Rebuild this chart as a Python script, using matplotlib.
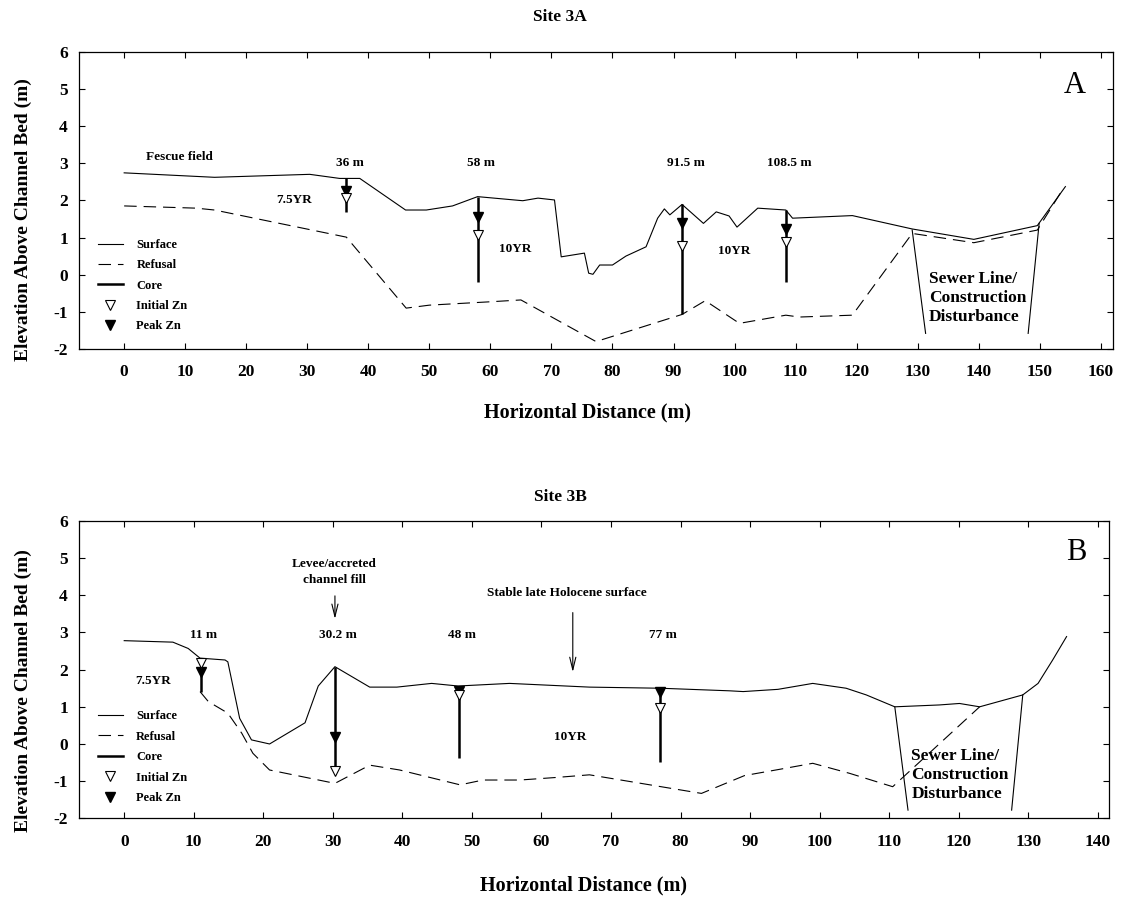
import matplotlib
matplotlib.use('Agg')
import matplotlib.pyplot as plt
from matplotlib.lines import Line2D

plt.rcParams['font.family'] = ['Liberation Serif', 'DejaVu Serif']
plt.rcParams['font.weight'] = 'bold'
plt.rcParams['axes.labelweight'] = 'bold'
plt.rcParams['axes.unicode_minus'] = False
plt.rcParams['lines.scale_dashes'] = False

# ---------------- Site 3A data ----------------
a_surface_x = [0, 14.8, 30.4, 35.3, 38.6, 46.1, 49.5, 53.8, 57.9, 65.3, 67.8, 70.5,
               71.6, 75.4, 76.1, 76.8, 77.9, 80.0, 82.2, 85.5, 87.4, 88.5, 89.4, 91.4,
               94.9, 97.0, 99.1, 100.4, 103.8, 108.4, 109.5, 119.3, 129.1, 139.2, 149.6, 154.2]
a_surface_y = [2.74, 2.62, 2.70, 2.59, 2.59, 1.74, 1.74, 1.85, 2.10, 1.99, 2.06, 2.01,
               0.48, 0.58, 0.04, 0.01, 0.26, 0.26, 0.50, 0.75, 1.52, 1.77, 1.61, 1.89,
               1.38, 1.69, 1.58, 1.28, 1.79, 1.74, 1.52, 1.59, 1.23, 0.95, 1.32, 2.37]
a_refusal_x = [0, 11.8, 14.8, 36.4, 46.2, 50.0, 59.9, 65.0, 77.3, 91.4, 95.2, 100.8,
               108.4, 110.6, 119.3, 129.1, 139.2, 149.6, 153.7]
a_refusal_y = [1.85, 1.79, 1.74, 1.01, -0.90, -0.82, -0.73, -0.68, -1.80, -1.07, -0.70, -1.31,
               -1.09, -1.14, -1.09, 1.11, 0.86, 1.20, 2.28]
a_core_x = [36.4, 57.9, 91.4, 108.4]
a_core_top = [2.59, 2.10, 1.89, 1.74]
a_core_bottom = [1.69, -0.19, -1.06, -0.19]
a_initial_zn = [2.07, 1.07, 0.77, 0.89]
a_peak_zn = [2.26, 1.54, 1.38, 1.22]
a_core_labels = ['36 m', '58 m', '91.5 m', '108.5 m']
a_sewer_left_x = [129.1, 131.3]
a_sewer_left_y = [1.20, -1.58]
a_sewer_right_x = [149.9, 148.1]
a_sewer_right_y = [1.38, -1.58]

# ---------------- Site 3B data ----------------
b_surface_x = [0, 7.0, 9.2, 10.9, 14.5, 14.9, 16.6, 18.3, 20.9, 26.0, 27.9, 30.3, 35.3,
               39.2, 44.2, 48.0, 55.4, 66.9, 77.1, 87.1, 89.0, 94.0, 99.0, 103.8, 106.7,
               110.8, 117.2, 120.1, 123.0, 129.2, 131.4, 133.5, 135.5]
b_surface_y = [2.78, 2.74, 2.57, 2.31, 2.26, 2.21, 0.69, 0.11, 0.00, 0.57, 1.56, 2.08, 1.53,
               1.53, 1.63, 1.56, 1.63, 1.53, 1.50, 1.43, 1.41, 1.47, 1.63, 1.50, 1.32,
               1.00, 1.05, 1.09, 1.00, 1.32, 1.63, 2.26, 2.89]
b_refusal_x = [10.9, 12.1, 14.9, 16.9, 18.5, 20.9, 30.3, 35.3, 39.6, 48.3, 51.6, 56.9,
               62.2, 66.9, 83.0, 89.2, 94.3, 99.0, 104.3, 110.5, 123.0]
b_refusal_y = [1.41, 1.14, 0.83, 0.29, -0.25, -0.70, -1.06, -0.57, -0.70, -1.10, -0.97, -0.97,
               -0.90, -0.83, -1.33, -0.85, -0.68, -0.52, -0.79, -1.15, 1.00]
b_core_x = [11.0, 30.3, 48.1, 77.1]
b_core_top = [2.31, 2.08, 1.56, 1.50]
b_core_bottom = [1.41, -0.75, -0.39, -0.48]
b_initial_zn = [2.19, -0.73, 1.32, 0.96]
b_peak_zn = [1.95, 0.20, 1.43, 1.41]
b_core_labels = ['11 m', '30.2 m', '48 m', '77 m']
b_sewer_left_x = [110.8, 112.7]
b_sewer_left_y = [1.00, -1.78]
b_sewer_right_x = [129.2, 127.6]
b_sewer_right_y = [1.32, -1.78]

W, H = 1121, 898
fig = plt.figure(figsize=(W / 100, H / 100), dpi=100)


def px_axes(left, top, right, bottom):
    return fig.add_axes([left / W, 1 - bottom / H, (right - left) / W, (bottom - top) / H])


axA = px_axes(79, 51.7, 1113, 349)
axB = px_axes(79, 521, 1109, 818.3)

LW = 0.8
DASH = (0, (9, 5))


def draw_profile(ax, sx, sy, rx, ry, cx, ctop, cbot, izn, pzn, slx, sly, srx, sry):
    ax.plot(sx, sy, color='black', lw=LW)
    ax.plot(rx, ry, color='black', lw=LW, linestyle=DASH)
    for x, t, b in zip(cx, ctop, cbot):
        ax.plot([x, x], [t, b], color='black', lw=1.8, solid_capstyle='butt', zorder=3)
    ax.plot(cx, pzn, linestyle='none', marker='v', ms=7, mfc='black', mec='black', zorder=4)
    ax.plot(cx, izn, linestyle='none', marker='v', ms=7, mfc='white', mec='black', mew=0.8, zorder=5)
    ax.plot(slx, sly, color='black', lw=LW)
    ax.plot(srx, sry, color='black', lw=LW)


def style_axes(ax, xmin, xmax, xticks, ylab_y, xlab_x, xlab_y):
    ax.set_xlim(xmin, xmax)
    ax.set_ylim(-2, 6)
    ax.set_xticks(xticks)
    ax.set_yticks(range(-2, 7))
    ax.tick_params(direction='in', top=True, right=True, length=4, width=0.8,
                   labelsize=12.5)
    ax.tick_params(axis='x', pad=11)
    ax.tick_params(axis='y', pad=8)
    for s in ax.spines.values():
        s.set_linewidth(0.9)
    ax.set_xlabel('Horizontal Distance (m)', fontsize=14.5)
    ax.set_ylabel('Elevation Above Channel Bed (m)', fontsize=14)
    ax.yaxis.set_label_coords(-0.0455, ylab_y)
    ax.xaxis.set_label_coords(xlab_x, xlab_y)


def add_legend(ax, ytop):
    handles = [
        Line2D([], [], color='black', lw=LW),
        Line2D([], [], color='black', lw=LW, linestyle=DASH),
        Line2D([], [], color='black', lw=1.8),
        Line2D([], [], linestyle='none', marker='v', ms=7, mfc='white', mec='black', mew=0.8),
        Line2D([], [], linestyle='none', marker='v', ms=7, mfc='black', mec='black'),
    ]
    labels = ['Surface', 'Refusal', 'Core', 'Initial Zn', 'Peak Zn']
    ax.legend(handles, labels, loc='upper left', bbox_to_anchor=(0.018, ytop),
              frameon=False, fontsize=9, handlelength=2.0, handletextpad=1.1,
              labelspacing=0.67, borderpad=0, borderaxespad=0)


# ---------------- Panel A ----------------
draw_profile(axA, a_surface_x, a_surface_y, a_refusal_x, a_refusal_y, a_core_x,
             a_core_top, a_core_bottom, a_initial_zn, a_peak_zn,
             a_sewer_left_x, a_sewer_left_y, a_sewer_right_x, a_sewer_right_y)
style_axes(axA, -7.4, 162, range(0, 161, 10), 0.437, (588 - 79) / 1034, -0.18)
add_legend(axA, 0.37)
for x, lab in zip(a_core_x, a_core_labels):
    axA.text(x + 0.6, 3.0, lab, ha='center', va='center', fontsize=9.5)
axA.text(9.1, 3.16, 'Fescue field', ha='center', va='center', fontsize=9.5)
axA.text(27.9, 2.01, '7.5YR', ha='center', va='center', fontsize=9.5)
axA.text(64.1, 0.68, '10YR', ha='center', va='center', fontsize=9.5)
axA.text(99.9, 0.65, '10YR', ha='center', va='center', fontsize=9.5)
axA.text(131.8, -0.64, 'Sewer Line/\nConstruction\nDisturbance', ha='left', va='center',
         fontsize=12.5, linespacing=1.25)
axA.text(155.8, 5.1, 'A', ha='center', va='center', fontsize=22, fontweight='normal')

# ---------------- Panel B ----------------
draw_profile(axB, b_surface_x, b_surface_y, b_refusal_x, b_refusal_y, b_core_x,
             b_core_top, b_core_bottom, b_initial_zn, b_peak_zn,
             b_sewer_left_x, b_sewer_left_y, b_sewer_right_x, b_sewer_right_y)
style_axes(axB, -6.5, 141.6, range(0, 141, 10), 0.431, (584 - 79) / 1030, -0.193)
add_legend(axB, 0.363)
for x, lab in zip(b_core_x, b_core_labels):
    axB.text(x + 0.4, 2.93, lab, ha='center', va='center', fontsize=9.5)
axB.text(4.2, 1.70, '7.5YR', ha='center', va='center', fontsize=9.5)
axB.text(64.1, 0.20, '10YR', ha='center', va='center', fontsize=9.5)
axB.text(30.2, 4.63, 'Levee/accreted\nchannel fill', ha='center', va='center',
         fontsize=9.5, linespacing=1.4)
axB.annotate('', xy=(30.3, 3.29), xytext=(30.3, 4.06),
             arrowprops=dict(arrowstyle='->,head_length=0.9,head_width=0.22', lw=0.8, color='black'))
axB.text(63.6, 4.05, 'Stable late Holocene surface', ha='center', va='center', fontsize=9.5)
axB.annotate('', xy=(64.5, 1.86), xytext=(64.5, 3.61),
             arrowprops=dict(arrowstyle='->,head_length=0.9,head_width=0.22', lw=0.8, color='black'))
axB.text(113.2, -0.83, 'Sewer Line/\nConstruction\nDisturbance', ha='left', va='center',
         fontsize=12.5, linespacing=1.25)
axB.text(136.9, 5.15, 'B', ha='center', va='center', fontsize=22, fontweight='normal')

fig.text(560 / W, 1 - 17 / H, 'Site 3A', ha='center', va='center', fontsize=12.5)
fig.text(560 / W, 1 - 497 / H, 'Site 3B', ha='center', va='center', fontsize=12.5)

fig.savefig('out.png', dpi=100)
